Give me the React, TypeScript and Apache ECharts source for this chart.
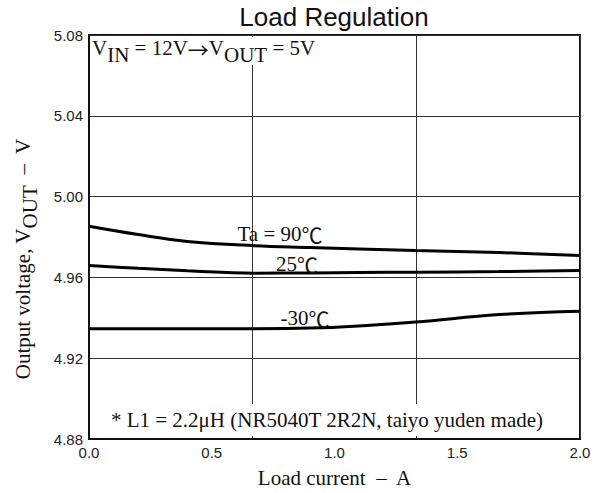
import React, { useEffect, useRef } from "react";
import * as echarts from "echarts";

// ---- data ----
const loadCurrentA = [0, 0.2, 0.4, 0.67, 0.9, 1.1, 1.33, 1.67, 2.0];
const vout90C = [4.9853, 4.9812, 4.9778, 4.9757, 4.9748, 4.9741, 4.9733, 4.9723, 4.9709];
const vout25C = [4.9659, 4.9645, 4.9633, 4.9621, 4.9622, 4.9624, 4.9626, 4.9629, 4.9634];
const voutMinus30C = [4.9346, 4.9346, 4.9346, 4.9346, 4.9349, 4.936, 4.9379, 4.9416, 4.9433];
const seriesNames = ["Ta = 90℃", "25℃", "-30℃"];

const yMin = 4.88;
const yMax = 5.08;
const yInterval = 0.04;
const xMin = 0;
const xMax = 2;
const xLabelInterval = 0.5;
const xGridInterval = 2 / 3;

const titleText = "Load Regulation";
const xAxisName = "Load current  –  A";

const SERIF = "'Liberation Serif', 'Times New Roman', serif";
const CJK = "'Noto Sans CJK JP', 'Noto Sans CJK SC', sans-serif";
const SANS = "'Liberation Sans', Arial, Helvetica, sans-serif";
const INK = "#111";

const pairs = (xs: number[], ys: number[]) => xs.map((x, i) => [x, ys[i]]);

const richSerif = (size: number) => ({
  a: { fontFamily: SERIF, fontSize: size, fill: INK, verticalAlign: "top" },
  s: { fontFamily: SERIF, fontSize: size, fill: INK, verticalAlign: "top", padding: [7, 0, 0, 0] },
  r: { fontFamily: CJK, fontSize: size, fill: INK, verticalAlign: "top", padding: [1, 0, 0, 0] },
});

const curveLabelRich = {
  t: { fontFamily: SERIF, fontSize: 21, fill: INK },
  c: { fontFamily: CJK, fontSize: 21, fill: INK },
};
const curveLabelText = (name: string) => {
  const [head] = name.split("℃");
  return `{t|${head}}{c|℃}`;
};

export default function App() {
  const ref = useRef<HTMLDivElement>(null);

  useEffect(() => {
    document.body.style.margin = "0";
    if (!ref.current) return;
    const chart = echarts.init(ref.current, undefined, { renderer: "svg" });

    const lineSeries = (name: string, ys: number[]) => ({
      name,
      type: "line",
      xAxisIndex: 0,
      yAxisIndex: 0,
      data: pairs(loadCurrentA, ys),
      smooth: 0.4,
      showSymbol: false,
      symbol: "none",
      lineStyle: { color: "#000", width: 3 },
      z: 3,
    });

    const curveLabel = (name: string, x: number, y: number) => ({
      type: "text",
      x,
      y,
      z: 10,
      style: {
        text: curveLabelText(name),
        rich: curveLabelRich,
        align: "center",
        verticalAlign: "middle",
      },
    });

    chart.setOption({
      animation: false,
      backgroundColor: "#fff",
      title: {
        text: titleText,
        left: 334,
        top: 4,
        textAlign: "center",
        padding: 0,
        textStyle: { fontFamily: SANS, fontSize: 26, fontWeight: "normal", color: INK },
      },
      grid: {
        left: 89,
        right: 25,
        top: 35,
        bottom: 51,
        show: true,
        borderColor: "#111",
        borderWidth: 2,
        backgroundColor: "transparent",
      },
      xAxis: [
        {
          type: "value",
          min: xMin,
          max: xMax,
          interval: xGridInterval,
          position: "bottom",
          axisLine: { show: true, lineStyle: { color: "#111", width: 2 } },
          axisTick: { show: false },
          axisLabel: { show: false },
          splitLine: { show: true, lineStyle: { color: "#333", width: 1 } },
        },
        {
          type: "value",
          min: xMin,
          max: xMax,
          interval: xLabelInterval,
          position: "bottom",
          axisLine: { show: false },
          axisTick: { show: false },
          splitLine: { show: false },
          axisLabel: {
            show: true,
            margin: 6,
            fontFamily: SANS,
            fontSize: 15,
            color: "#222",
            formatter: (v: number) => v.toFixed(1),
          },
          name: xAxisName,
          nameLocation: "middle",
          nameGap: 28,
          nameTextStyle: { fontFamily: SERIF, fontSize: 21, color: INK },
        },
      ],
      yAxis: {
        type: "value",
        min: yMin,
        max: yMax,
        interval: yInterval,
        axisLine: { show: true, lineStyle: { color: "#111", width: 2 } },
        axisTick: { show: false },
        axisLabel: {
          margin: 6,
          fontFamily: SANS,
          fontSize: 15,
          color: "#222",
          formatter: (v: number) => v.toFixed(2),
        },
        splitLine: { show: true, lineStyle: { color: "#333", width: 1 } },
      },
      series: [
        lineSeries(seriesNames[0], vout90C),
        lineSeries(seriesNames[1], vout25C),
        lineSeries(seriesNames[2], voutMinus30C),
      ],
      graphic: [
        curveLabel(seriesNames[0], 280, 233.5),
        curveLabel(seriesNames[1], 297, 263.5),
        curveLabel(seriesNames[2], 305, 317.5),
        {
          type: "text",
          x: 90,
          y: 37,
          z: 10,
          style: {
            text: "{a|V}{s|IN}{a| = 12V}{r|→}{a|V}{s|OUT}{a| = 5V}",
            rich: richSerif(21),
            align: "left",
            verticalAlign: "top",
            backgroundColor: "#fff",
            padding: [0, 4, 0, 2],
          },
        },
        {
          type: "text",
          x: 327,
          y: 420,
          z: 10,
          style: {
            text: "* L1 = 2.2μH (NR5040T 2R2N, taiyo yuden made)",
            fontFamily: SERIF,
            fontSize: 21,
            fill: INK,
            align: "center",
            verticalAlign: "middle",
            backgroundColor: "#fff",
            padding: [5, 6, 6, 6],
          },
        },
        {
          type: "text",
          x: 26,
          y: 259,
          rotation: Math.PI / 2,
          z: 10,
          style: {
            text: "{a|Output voltage, V}{s|OUT}{a|  –  V}",
            rich: richSerif(21),
            align: "center",
            verticalAlign: "middle",
          },
        },
      ],
    });

    return () => {
      chart.dispose();
    };
  }, []);

  return <div ref={ref} style={{ width: 605, height: 493 }} />;
}
